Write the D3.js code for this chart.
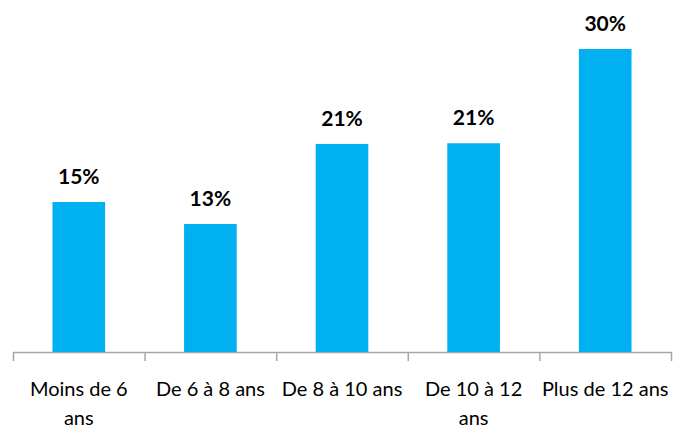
<!DOCTYPE html>
<html lang="fr">
<head>
<meta charset="utf-8">
<title>Ancienneté</title>
<script src="https://d3js.org/d3.v7.min.js"></script>
<style type="text/css">
body {
	margin: 0;
	background: #fff;
}
text {
	font-family: Lato, "Open Sans", sans-serif;
	fill: #000;
}
</style>
</head>
<body>
<script type="text/javascript">

// data
var categories = ["Moins de 6 ans", "De 6 à 8 ans", "De 8 à 10 ans", "De 10 à 12 ans", "Plus de 12 ans"];
var values = [14.85, 12.67, 20.6, 20.67, 30];

const width = 685;
const height = 427;
const left = 13, right = 671;
const axisY = 352;

var svg = d3.select("body")
	.append("svg")
	.attr("width", width)
	.attr("height", height);

// bars sit in the middle of each category slot
var x = d3.scaleBand()
	.domain(categories)
	.range([left, right])
	.paddingInner(0.6)
	.paddingOuter(0.3);

// slot edges for the axis ticks
var xEdge = d3.scaleLinear().domain([0, categories.length]).range([left, right]);

var y = d3.scaleLinear().domain([0, 30]).range([axisY, 49]);

var axis = svg.append("g")
	.attr("transform", "translate(0," + axisY + ")")
	.call(d3.axisBottom(xEdge)
		.tickValues(d3.range(categories.length + 1))
		.tickFormat("")
		.tickSize(9)
		.tickSizeOuter(0));
axis.select(".domain").attr("stroke", "#a6a6a6").attr("stroke-width", 1.5);
axis.selectAll(".tick line").attr("stroke", "#a6a6a6").attr("stroke-width", 1.5);

svg.append("g").selectAll("rect")
	.data(values)
	.enter()
	.append("rect")
	.attr("x", function(d, i) { return x(categories[i]); })
	.attr("y", function(d) { return y(d); })
	.attr("width", x.bandwidth())
	.attr("height", function(d) { return axisY - y(d); })
	.style("fill", "#00b0f0");

// value labels
svg.append("g").selectAll("text")
	.data(values)
	.enter()
	.append("text")
	.attr("x", function(d, i) { return x(categories[i]) + x.bandwidth() / 2; })
	.attr("y", function(d) { return y(d) - 18; })
	.attr("text-anchor", "middle")
	.style("font-size", "21px")
	.style("font-weight", "bold")
	.text(function(d) { return Math.round(d) + "%"; });

// category labels, wrapped to the slot width
var labels = svg.append("g").selectAll("text")
	.data(categories)
	.enter()
	.append("text")
	.attr("x", function(d) { return x(d) + x.bandwidth() / 2; })
	.attr("y", 396)
	.attr("text-anchor", "middle")
	.style("font-size", "20px");

labels.each(function(d) {
	var el = d3.select(this);
	var words = d.split(" ");
	var line = [];
	var tspan = el.append("tspan").attr("x", el.attr("x")).attr("dy", 0);
	words.forEach(function(w) {
		line.push(w);
		tspan.text(line.join(" "));
		if (tspan.node().getComputedTextLength() > x.step() && line.length > 1) {
			line.pop();
			tspan.text(line.join(" "));
			line = [w];
			tspan = el.append("tspan").attr("x", el.attr("x")).attr("dy", 29).text(w);
		}
	});
});

</script>
</body>
</html>
